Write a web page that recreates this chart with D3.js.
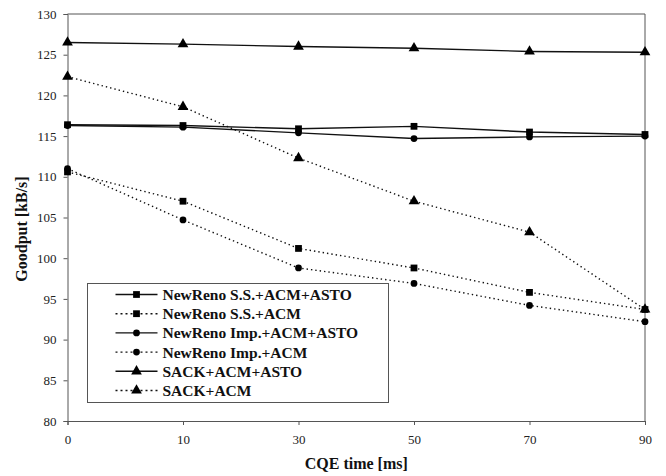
<!DOCTYPE html>
<html>
<head>
<meta charset="utf-8">
<script src="https://cdn.jsdelivr.net/npm/d3@7"></script>
<style>
  body { margin: 0; background: #fff; }
  svg { display: block; }
  svg text { font-family: "Liberation Serif", serif; }
</style>
</head>
<body>
<svg id="chart" width="666" height="476"></svg>
<script>
// x categories (CQE time, ms)
var cqeTimes = [0, 10, 30, 50, 70, 90];
var yTicks = [80, 85, 90, 95, 100, 105, 110, 115, 120, 125, 130];

// goodput values, kB/s
var ssAcmAsto  = [116.4, 116.3, 115.9, 116.2, 115.5, 115.2];
var ssAcm      = [110.6, 107.0, 101.2, 98.8, 95.8, 93.7];
var impAcmAsto = [116.3, 116.1, 115.4, 114.7, 114.9, 115.0];
var impAcm     = [111.0, 104.7, 98.8, 96.9, 94.2, 92.2];
var sackAcmAsto = [126.5, 126.3, 126.0, 125.8, 125.4, 125.3];
var sackAcm     = [122.3, 118.6, 112.3, 107.0, 103.2, 93.7];

var seriesNames = ["NewReno S.S.+ACM+ASTO", "NewReno S.S.+ACM", "NewReno Imp.+ACM+ASTO",
                   "NewReno Imp.+ACM", "SACK+ACM+ASTO", "SACK+ACM"];

var series = [
  { name: seriesNames[0], values: ssAcmAsto,  marker: "square",   dotted: false },
  { name: seriesNames[1], values: ssAcm,      marker: "square",   dotted: true },
  { name: seriesNames[2], values: impAcmAsto, marker: "circle",   dotted: false },
  { name: seriesNames[3], values: impAcm,     marker: "circle",   dotted: true },
  { name: seriesNames[4], values: sackAcmAsto, marker: "triangle", dotted: false },
  { name: seriesNames[5], values: sackAcm,     marker: "triangle", dotted: true }
];

var svg = d3.select("#chart");
var serif = "Liberation Serif";
var margin = { left: 67.5, top: 14, right: 21, bottom: 55 };
var W = 666, H = 476;
var axisColor = "#555";

var x = d3.scalePoint().domain(cqeTimes).range([margin.left, W - margin.right]);
var y = d3.scaleLinear().domain([80, 130]).range([H - margin.bottom, margin.top]);

var symbolFor = {
  square: d3.symbol().type(d3.symbolSquare).size(46),
  circle: d3.symbol().type(d3.symbolCircle).size(36),
  triangle: d3.symbol().type(d3.symbolTriangle).size(50)
};

// plot frame (top and right)
svg.append("path")
  .attr("d", "M" + x(0) + "," + y(130) + "H" + x(90) + "V" + y(80))
  .attr("fill", "none").attr("stroke", axisColor).attr("stroke-width", 1);

// axes
var yAxis = d3.axisLeft(y).tickValues(yTicks).tickSize(4).tickPadding(7);
var gy = svg.append("g").attr("transform", "translate(" + x(0) + ",0)").call(yAxis);

var xAxis = d3.axisBottom(x).tickSize(4).tickPadding(10);
var gx = svg.append("g").attr("transform", "translate(0," + y(80) + ")").call(xAxis);

[gx, gy].forEach(function(g) {
  g.select(".domain").attr("stroke", axisColor);
  g.selectAll(".tick line").attr("stroke", axisColor);
  g.selectAll(".tick text").attr("fill", "#222")
    .attr("font-family", serif).attr("font-size", 13);
});

// series lines
var line = d3.line()
  .x(function(d, i) { return x(cqeTimes[i]); })
  .y(function(d) { return y(d); });

series.forEach(function(s) {
  svg.append("path")
    .datum(s.values)
    .attr("d", line)
    .attr("fill", "none")
    .attr("stroke", "#111")
    .attr("stroke-width", 1.4)
    .attr("stroke-dasharray", s.dotted ? "1.4,3" : null);
});

series.forEach(function(s) {
  svg.selectAll(null)
    .data(s.values)
    .enter().append("path")
    .attr("d", symbolFor[s.marker])
    .attr("transform", function(d, i) { return "translate(" + x(cqeTimes[i]) + "," + y(d) + ")"; })
    .attr("fill", "#000");
});

// legend
var legend = svg.append("g").attr("transform", "translate(87.5,283.5)");
legend.append("rect")
  .attr("width", 301).attr("height", 119)
  .attr("fill", "#fff").attr("stroke", axisColor).attr("stroke-width", 1);

var rows = legend.selectAll("g.row").data(series).enter().append("g")
  .attr("class", "row")
  .attr("transform", function(d, i) { return "translate(0," + (11 + i * 19.2) + ")"; });

rows.append("line")
  .attr("x1", 28).attr("x2", 70).attr("y1", 0).attr("y2", 0)
  .attr("stroke", "#111").attr("stroke-width", 1.4)
  .attr("stroke-dasharray", function(d) { return d.dotted ? "2,3" : null; });

rows.append("path")
  .attr("d", function(d) { return symbolFor[d.marker](); })
  .attr("transform", "translate(49,0)")
  .attr("fill", "#000");

rows.append("text")
  .attr("x", 75).attr("y", 0).attr("dy", "0.35em")
  .attr("font-family", serif).attr("font-size", 15.5).attr("font-weight", "bold")
  .attr("fill", "#111")
  .text(function(d) { return d.name; });

// axis titles
svg.append("text")
  .attr("x", (x(0) + x(90)) / 2).attr("y", 469)
  .attr("text-anchor", "middle")
  .attr("font-family", serif).attr("font-size", 16).attr("font-weight", "bold")
  .attr("fill", "#111")
  .text("CQE time [ms]");

svg.append("text")
  .attr("transform", "translate(27,229) rotate(-90)")
  .attr("text-anchor", "middle")
  .attr("font-family", serif).attr("font-size", 16).attr("font-weight", "bold")
  .attr("fill", "#111")
  .text("Goodput [kB/s]");
</script>
</body>
</html>
